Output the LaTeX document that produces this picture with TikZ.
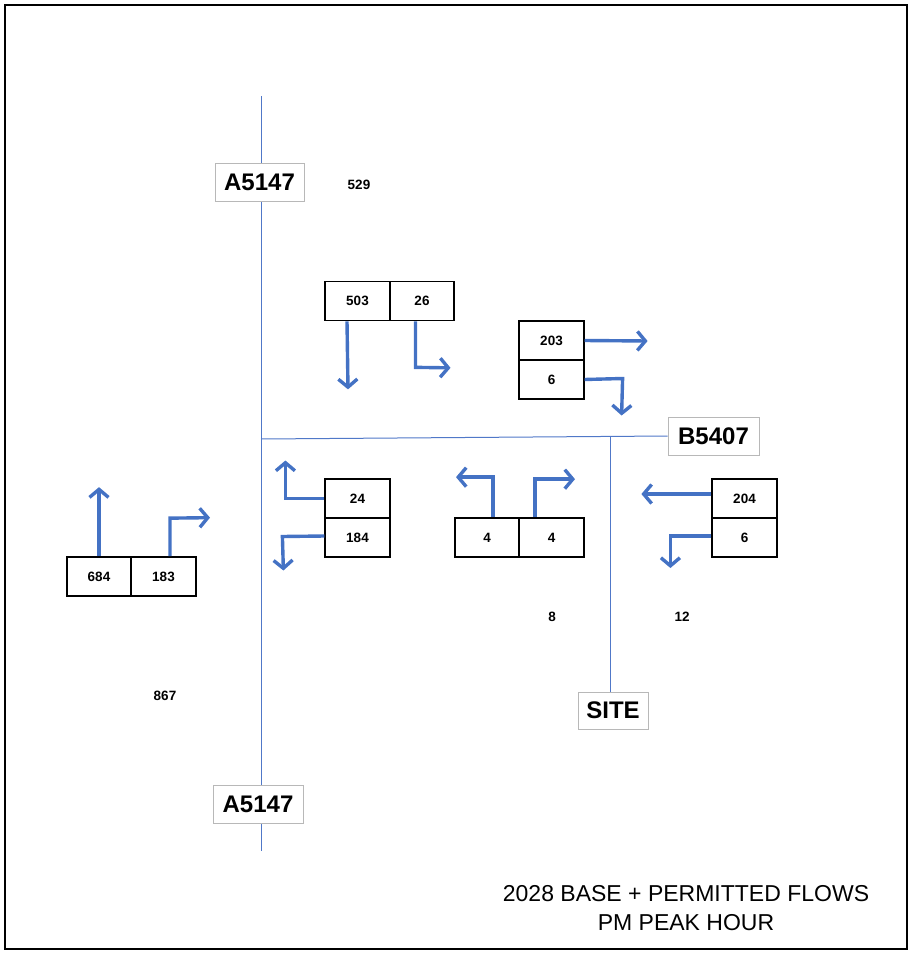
\documentclass[tikz,border=0pt]{standalone}
\usepackage{fontspec}
\setmainfont{Liberation Sans}
\usetikzlibrary{arrows.meta}
\definecolor{flowblue}{RGB}{68,114,196}
\definecolor{roadblue}{RGB}{80,120,200}
\tikzset{
  cell/.style={draw, line width=1.7pt, minimum width=64.5pt, minimum height=39pt, inner sep=0pt, font=\bfseries\fontsize{13.5}{13.5}\selectfont},
  lbl/.style={draw=black!28, line width=0.9pt, fill=white, minimum height=38pt, inner sep=0pt, font=\bfseries\fontsize{24}{24}\selectfont},
  num/.style={font=\bfseries\fontsize{13.5}{13.5}\selectfont, inner sep=0pt},
  road/.style={draw=roadblue, line width=1pt},
  flow/.style={draw=flowblue, line width=3.4pt, -{Straight Barb[length=8pt,width=19pt,line width=3.4pt]}},
}
\begin{document}
\begin{tikzpicture}[x=1pt,y=-1pt]
\useasboundingbox (0,0) rectangle (913,953);
\draw[line width=2pt] (5,5) rectangle (907,949);

% roads
\coordinate (vtop) at (261,96);
\coordinate (vbot) at (261,851);
\coordinate (hjn) at (261,439);
\coordinate (sjn) at (610,436.5);
\draw[road] (vtop) -- (vbot);

% labels
\node[lbl, minimum width=89pt] (a1) at (259.5,182) {A5147};
\node[lbl, minimum width=90pt] (a2) at (258,804) {A5147};
\node[lbl, minimum width=91pt] (b1) at (713.5,436) {B5407};
\node[lbl, minimum width=70pt, minimum height=37pt] (site) at (613,710.5) {SITE};
\draw[road] (hjn) -- (b1.west);
\draw[road] (sjn) -- (site.north -| sjn);

% cells
\node[cell] (c503) at (357.5,301) {503};
\node[cell] (c26) at (422,301) {26};
\node[cell] (c203) at (551.5,340.5) {203};
\node[cell] (c6a) at (551.5,379.5) {6};
\node[cell] (c24) at (357.5,498.5) {24};
\node[cell] (c184) at (357.5,537.5) {184};
\node[cell] (c4a) at (487,537.5) {4};
\node[cell] (c4b) at (551.5,537.5) {4};
\node[cell] (c204) at (744.5,498.5) {204};
\node[cell] (c6b) at (744.5,537.5) {6};
\node[cell] (c684) at (99,576.5) {684};
\node[cell] (c183) at (163.5,576.5) {183};

% free numbers
\node[num] (t529) at (359,185) {529};
\node[num] (t867) at (165,696) {867};
\node[num] (t8) at (552,617) {8};
\node[num] (t12) at (682,617) {12};

% flow arrows
\draw[flow] ([xshift=-10.5pt]c503.south) -- ++(1,68);
\draw[flow] ([xshift=-6.5pt]c26.south) -- ++(0,46) -- ++(35,0.5);
\draw[flow] (c203.east) -- ++(63,0.5);
\draw[flow] (c6a.east) -- ++(38,-1) -- ++(-1,37);
\draw[flow] (c24.west) -- ++(-39,0) -- ++(0,-38);
\draw[flow] ([yshift=1.5pt]c184.west) -- ++(-42,0.5) -- ++(1,34);
\draw[flow] ([xshift=6pt]c4a.north) -- ++(0,-40) -- ++(-37,0);
\draw[flow] ([xshift=-16.5pt]c4b.north) -- ++(0,-38) -- ++(40,0);
\draw[flow] ([yshift=4.5pt]c204.west) -- ++(-70,0);
\draw[flow] ([yshift=1.5pt]c6b.west) -- ++(-41,0) -- ++(0,32);
\draw[flow] (c684.north) -- ++(0,-69);
\draw[flow] ([xshift=6.5pt]c183.north) -- ++(0,-38) -- ++(40,-0.5);

% title
\node[align=center, font=\fontsize{23}{29}\selectfont, inner sep=0pt] (title) at (686,908) {2028 BASE + PERMITTED FLOWS\\PM PEAK HOUR};
\end{tikzpicture}
\end{document}
